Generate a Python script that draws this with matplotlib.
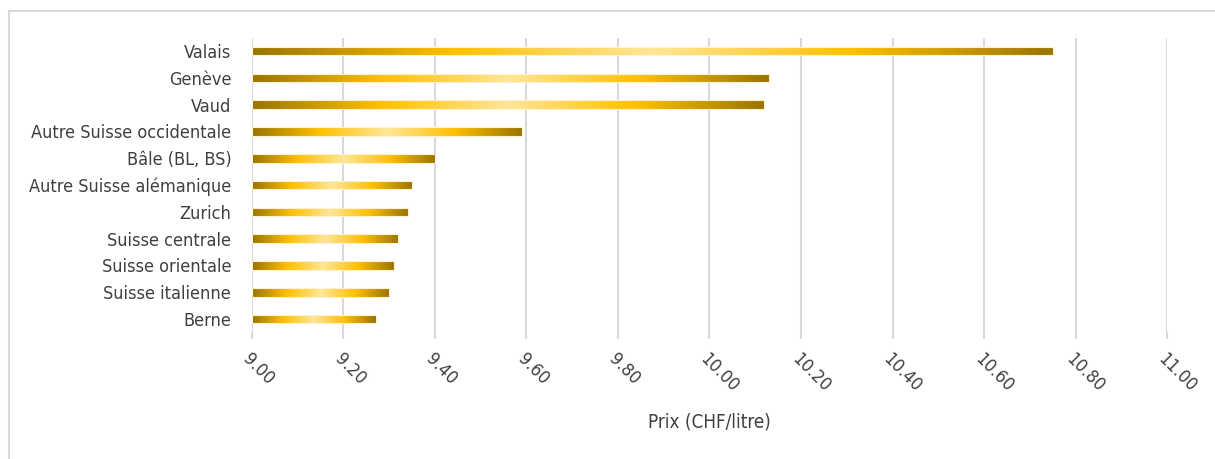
import numpy as np
import matplotlib
matplotlib.use("Agg")
import matplotlib.pyplot as plt
from matplotlib.colors import LinearSegmentedColormap
from matplotlib.lines import Line2D

regions = ["Valais", "Genève", "Vaud", "Autre Suisse occidentale", "Bâle (BL, BS)",
           "Autre Suisse alémanique", "Zurich", "Suisse centrale", "Suisse orientale",
           "Suisse italienne", "Berne"]
prix = [10.75, 10.13, 10.12, 9.59, 9.40, 9.35, 9.34, 9.32, 9.31, 9.30, 9.27]
ticks = [9.00, 9.20, 9.40, 9.60, 9.80, 10.00, 10.20, 10.40, 10.60, 10.80, 11.00]

plt.rcParams['font.family'] = ['DejaVu Sans']
plt.rcParams['font.stretch'] = 'condensed'

fig = plt.figure(figsize=(12.15, 4.59), dpi=100)
ax = fig.add_axes([0.2074, 0.2758, 0.7531, 0.642])

# degradé or: sombre aux bouts, clair au milieu
gold = LinearSegmentedColormap.from_list(
    "gold", [(0, "#9a7400"), (0.25, "#ffc000"), (0.5, "#ffe699"),
             (0.75, "#ffc000"), (1, "#9a7400")])
grad = np.linspace(0, 1, 256).reshape(1, -1)

base = 9.0
h = 0.32
y = np.arange(len(regions))[::-1]
bars = ax.barh(y, np.array(prix) - base, left=base, height=h,
               color="none", edgecolor="#fff2cc", linewidth=0.8, zorder=3)
for b in bars:
    x0, yb = b.get_x(), b.get_y()
    im = ax.imshow(grad, cmap=gold, aspect="auto", zorder=2,
                   extent=[x0, x0 + b.get_width(), yb, yb + b.get_height()])
    im.set_clip_path(b)

ax.set_xlim(9.0, 11.0)
ax.set_ylim(-0.5, len(regions) - 0.5)
ax.set_yticks(y)
ax.set_yticklabels(regions, fontsize=13, color="#404040")
ax.set_xticks(ticks)
ax.set_xticklabels([f"{t:.2f}" for t in ticks], rotation=-45, ha="left", va="top",
                   rotation_mode="anchor", fontsize=13, color="#404040")
ax.tick_params(axis="y", length=0, pad=15)
ax.tick_params(axis="x", length=5, color="#d9d9d9", width=1.5, pad=8)
ax.grid(axis="x", color="#d9d9d9", linewidth=1.5, zorder=0)
ax.set_axisbelow(True)
for s in ax.spines.values():
    s.set_visible(False)
ax.set_xlabel("Prix (CHF/litre)", fontsize=13.5, color="#404040", labelpad=12)

# cadre du graphique
fig.add_artist(Line2D([9 / 1215, 1], [1 - 11 / 459, 1 - 11 / 459], color="#d9d9d9", lw=1.5))
fig.add_artist(Line2D([9 / 1215, 9 / 1215], [0, 1 - 11 / 459], color="#d9d9d9", lw=1.5))

fig.savefig("out.png", dpi=100)
